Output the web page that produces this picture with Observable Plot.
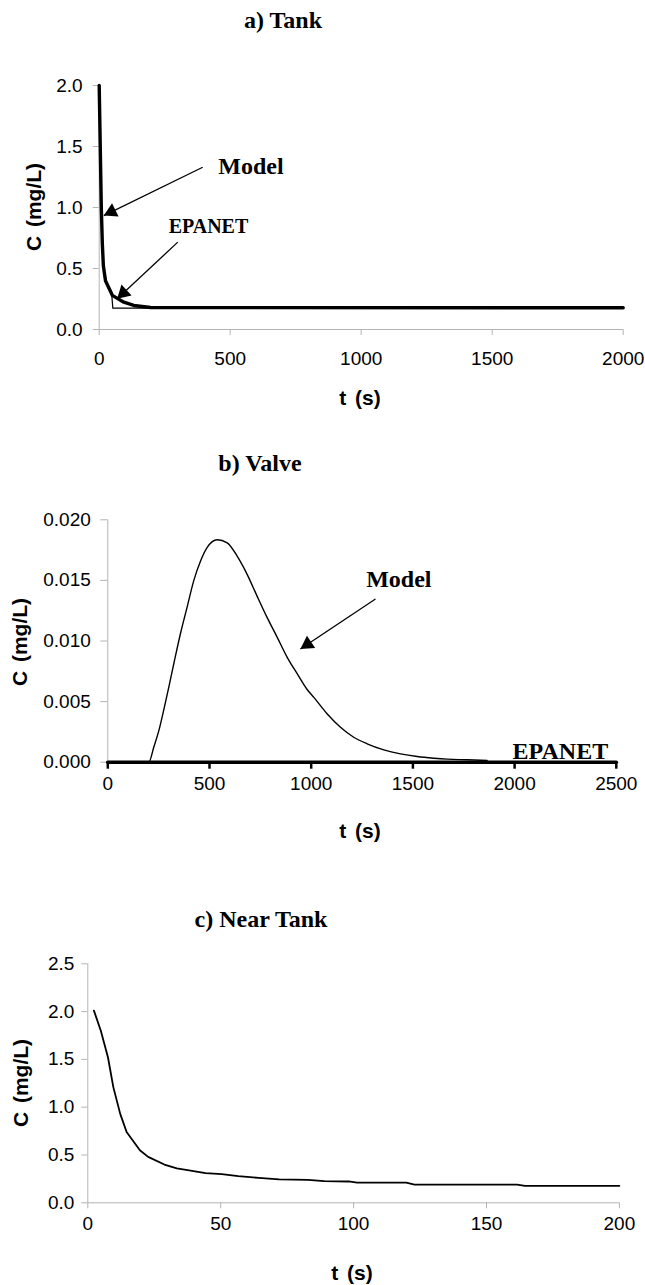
<!DOCTYPE html>
<html>
<head>
<meta charset="utf-8">
<script src="https://cdn.jsdelivr.net/npm/d3@7"></script>
<script src="https://cdn.jsdelivr.net/npm/@observablehq/plot@0.6"></script>
<style>
  html, body { margin: 0; padding: 0; background: #fff; }
  #wrap { position: relative; width: 645px; height: 1285px; background: #fff; overflow: hidden; }
  #wrap svg { position: absolute; left: 0; }
  .ttl { position: absolute; transform: translate(-50%, -50%); font-family: "Liberation Serif", "Times New Roman", serif; font-weight: bold; font-size: 24px; color: #000; white-space: nowrap; }
  .axt { position: absolute; transform: translate(-50%, -50%); font-family: "Liberation Sans", Arial, sans-serif; font-weight: bold; font-size: 21px; color: #000; white-space: nowrap; word-spacing: 3px; }
  .axt.rot { transform: translate(-50%, -50%) rotate(-90deg); }
</style>
</head>
<body>
<div id="wrap"></div>
<script>
// ---------- data ----------
// a) Tank
const tankT       = [0, 4, 8, 12, 16, 24, 50, 94, 132, 196, 2000];
const tankModel   = [2.0, 1.5, 1.0, 0.7, 0.52, 0.4, 0.28, 0.224, 0.197, 0.18, 0.178];
const tankEpT     = [0, 8, 16, 30, 47, 52, 2000];
const tankEpanet  = [2.0, 1.0, 0.52, 0.37, 0.31, 0.175, 0.175];
const tankXTicks  = [0, 500, 1000, 1500, 2000];
const tankYTicks  = [0, 0.5, 1.0, 1.5, 2.0];

// b) Valve
const valveT      = [0, 202, 226, 251, 275, 300, 328, 357, 390, 423, 456, 488, 538, 587, 636, 685, 734, 783, 833, 882, 931, 980, 1013, 1078, 1144, 1209, 1275, 1357, 1439, 1521, 1603, 1668, 1767, 1865];
const valveModel  = [0, 0, 0.00124, 0.0026, 0.0043, 0.0062, 0.0084, 0.0106, 0.0128, 0.0150, 0.0166, 0.0177, 0.01835, 0.0181, 0.0170, 0.0155, 0.0137, 0.01195, 0.0103, 0.00865, 0.0073, 0.0060, 0.00535, 0.0040, 0.00288, 0.00206, 0.00152, 0.00102, 0.00069, 0.00047, 0.00033, 0.00025, 0.0002, 0.00014];
const valveEpT    = [0, 2500];
const valveEpanet = [0, 0];
const valveXTicks = [0, 500, 1000, 1500, 2000, 2500];
const valveYTicks = [0, 0.005, 0.010, 0.015, 0.020];

// c) Near Tank
const nearT       = [2.3, 4.9, 7.6, 9.6, 12.2, 14.6, 19.6, 22.7, 28.8, 33.5, 38.1, 44.3, 50.4, 56.6, 64.3, 72, 82.8, 89, 98.2, 101.3, 119.8, 122.9, 161.5, 164.5, 200];
const nearModel   = [2.01, 1.80, 1.52, 1.21, 0.93, 0.74, 0.55, 0.48, 0.40, 0.36, 0.34, 0.31, 0.30, 0.28, 0.26, 0.244, 0.24, 0.227, 0.223, 0.21, 0.21, 0.19, 0.19, 0.178, 0.178];
const nearXTicks  = [0, 50, 100, 150, 200];
const nearYTicks  = [0, 0.5, 1.0, 1.5, 2.0, 2.5];

// annotations (data coordinates)
const tankLabels  = [
  {text: "Model",  t: 579, c: 1.336, size: 24},
  {text: "EPANET", t: 417, c: 0.844, size: 20}
];
const tankArrows  = [
  {t1: 395, c1: 1.33,  t2: 17.6, c2: 0.934},
  {t1: 300, c1: 0.716, t2: 68.7, c2: 0.252}
];
const valveLabels = [
  {text: "Model",  t: 1431, c: 0.01511, size: 24},
  {text: "EPANET", t: 2225, c: 0.00091, size: 24}
];
const valveArrows = [
  {t1: 1316, c1: 0.01346, t2: 947, c2: 0.00934}
];

const titles = [
  {text: "a) Tank",      x: 283, y: 20},
  {text: "b) Valve",     x: 260, y: 463},
  {text: "c) Near Tank", x: 261, y: 919}
];
const axisTitles = [
  {text: "t (s)",    x: 360, y: 398,  rot: false},
  {text: "C (mg/L)", x: 34,  y: 207,  rot: true},
  {text: "t (s)",    x: 360, y: 831,  rot: false},
  {text: "C (mg/L)", x: 20,  y: 642,  rot: true},
  {text: "t (s)",    x: 352, y: 1273, rot: false},
  {text: "C (mg/L)", x: 21,  y: 1083, rot: true}
];

// ---------- helpers ----------
const zip = (T, C) => T.map((t, i) => ({t, c: C[i]}));
const GRAY = "#b4b4b4";
const FONT = "'Liberation Sans', Arial, sans-serif";

function heads(arrows, sx, sy) {
  return arrows.map(a => {
    const x1 = sx.apply(a.t1), y1 = sy.apply(a.c1), x2 = sx.apply(a.t2), y2 = sy.apply(a.c2);
    const dx = x2 - x1, dy = y2 - y1, L = Math.hypot(dx, dy);
    const back = 8.5;
    return {
      t: sx.invert(x2 - dx / L * back),
      c: sy.invert(y2 - dy / L * back),
      rot: Math.atan2(dx, -dy) * 180 / Math.PI
    };
  });
}

function panel(cfg) {
  const base = {
    width: 645, height: cfg.height,
    marginTop: cfg.mt, marginBottom: cfg.mb, marginLeft: cfg.ml, marginRight: cfg.mr,
    x: {domain: cfg.xdom}, y: {domain: cfg.ydom},
    style: {fontFamily: FONT, fontSize: "19px", color: "#000", background: "transparent", overflow: "visible"}
  };
  const pre = Plot.plot({...base, marks: [Plot.ruleY([0])]});
  const sx = pre.scale("x"), sy = pre.scale("y");
  const hd = heads(cfg.arrows || [], sx, sy);
  const marks = [
    Plot.axisY({ticks: cfg.yticks, tickFormat: d3.format(cfg.yfmt), tickSize: cfg.yts, tickPadding: cfg.ytp, stroke: GRAY, fill: "#000", fontSize: 19, label: null}),
    Plot.axisX({ticks: cfg.xticks, tickFormat: d => String(d), tickSize: cfg.xts, tickPadding: cfg.xtp, stroke: cfg.xTickColor || GRAY, strokeWidth: cfg.xTickWidth || 1, fill: "#000", fontSize: 19, label: null}),
    Plot.ruleX([0], {stroke: GRAY}),
    Plot.ruleY([0], {stroke: GRAY}),
    ...cfg.lines.map(l => Plot.line(l.data, {x: "t", y: "c", stroke: "#000", strokeWidth: l.w, curve: l.curve || "linear", strokeLinejoin: "round"})),
    Plot.link(cfg.arrows || [], {x1: "t1", y1: "c1", x2: "t2", y2: "c2", stroke: "#000", strokeWidth: 1.3}),
    Plot.dot(hd, {x: "t", y: "c", symbol: "triangle", r: 5.5, fill: "#000", stroke: "none", rotate: "rot"}),
    ...(cfg.labels || []).map(l => Plot.text([l], {x: "t", y: "c", text: "text", fontFamily: "'Liberation Serif', 'Times New Roman', serif", fontWeight: "bold", fontSize: l.size, fill: "#000", textAnchor: "middle"}))
  ];
  const svg = Plot.plot({...base, marks});
  svg.style.top = cfg.top + "px";
  return svg;
}

const wrap = document.getElementById("wrap");

wrap.appendChild(panel({
  top: 60, height: 319, mt: 25, mb: 50, ml: 98.7, mr: 22.3,
  xdom: [0, 2000], ydom: [0, 2.0], xticks: tankXTicks, yticks: tankYTicks, yfmt: ".1f",
  xts: 6, xtp: 16, yts: 6, ytp: 10.5,
  lines: [
    {data: zip(tankEpT, tankEpanet), w: 1.2},
    {data: zip(tankT, tankModel), w: 3.4}
  ],
  labels: tankLabels, arrows: tankArrows
}));

wrap.appendChild(panel({
  top: 500, height: 302, mt: 19.3, mb: 40.3, ml: 107.3, mr: 29.2,
  xdom: [0, 2500], ydom: [0, 0.020], xticks: valveXTicks, yticks: valveYTicks, yfmt: ".3f",
  xts: 7, xtp: 7, yts: 7, ytp: 10, xTickColor: "#000", xTickWidth: 2.5,
  lines: [
    {data: zip(valveT, valveModel), w: 1.4, curve: "monotone-x"},
    {data: zip(valveEpT, valveEpanet), w: 3.6}
  ],
  labels: valveLabels, arrows: valveArrows
}));

wrap.appendChild(panel({
  top: 940, height: 302.3, mt: 23.3, mb: 40, ml: 87.3, mr: 26.1,
  xdom: [0, 200], ydom: [0, 2.5], xticks: nearXTicks, yticks: nearYTicks, yfmt: ".1f",
  xts: 6, xtp: 8, yts: 6, ytp: 7.5,
  lines: [
    {data: zip(nearT, nearModel), w: 1.8}
  ]
}));

for (const t of titles) {
  const d = document.createElement("div");
  d.className = "ttl"; d.textContent = t.text;
  d.style.left = t.x + "px"; d.style.top = t.y + "px";
  wrap.appendChild(d);
}
for (const t of axisTitles) {
  const d = document.createElement("div");
  d.className = "axt" + (t.rot ? " rot" : ""); d.textContent = t.text;
  d.style.left = t.x + "px"; d.style.top = t.y + "px";
  wrap.appendChild(d);
}
</script>
</body>
</html>
